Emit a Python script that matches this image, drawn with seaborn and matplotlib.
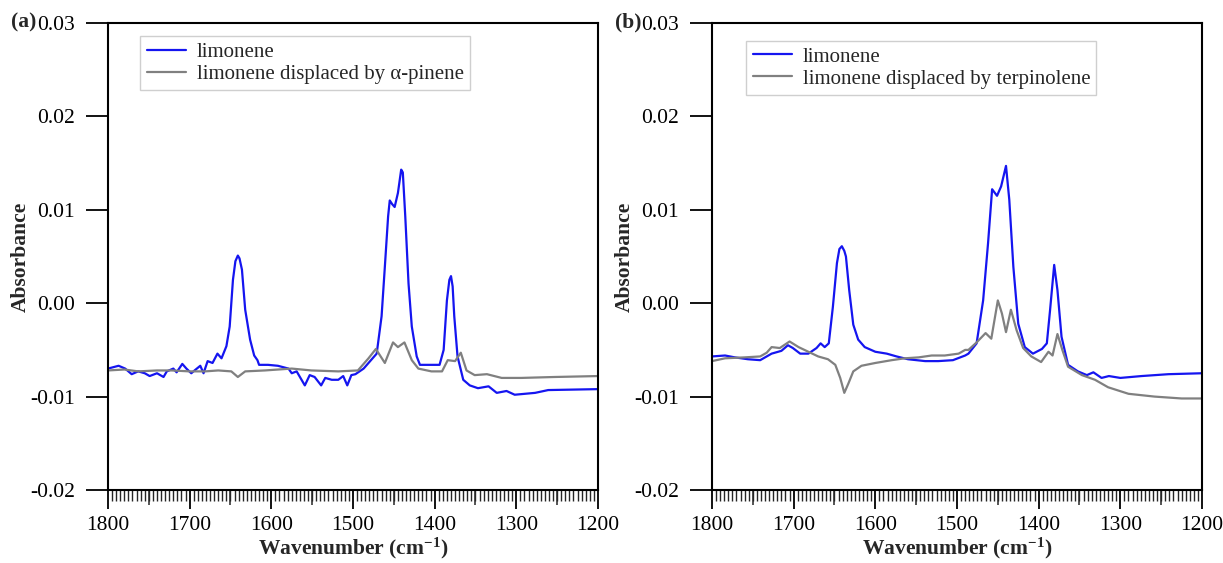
import numpy as np
import pandas as pd
import matplotlib
matplotlib.use("Agg")
import matplotlib.pyplot as plt
import seaborn as sns
from matplotlib.ticker import MultipleLocator, FuncFormatter

# ---------------- data ----------------
# Panel (a): limonene
a_blue_wn = [1800, 1787, 1779, 1771, 1763, 1755, 1749, 1740, 1732, 1728, 1720, 1716, 1709, 1704,
             1698, 1694, 1687, 1683, 1678, 1672, 1666, 1661, 1655, 1651, 1647, 1644, 1641, 1639,
             1636, 1632, 1626, 1621, 1617, 1615, 1604, 1592, 1579, 1575, 1569, 1559, 1553, 1547,
             1539, 1534, 1526, 1518, 1512, 1507, 1502, 1497, 1487, 1481, 1471, 1465, 1461, 1457,
             1455, 1452, 1449, 1445, 1441, 1439, 1436, 1432, 1428, 1422, 1418, 1394, 1389, 1385,
             1382, 1380, 1378, 1376, 1372, 1365, 1357, 1347, 1334, 1324, 1312, 1302, 1277, 1261, 1200]
a_blue_y = [-0.0070, -0.0067, -0.0070, -0.0076, -0.0073, -0.0075, -0.0078, -0.0075, -0.0079, -0.0073,
            -0.0070, -0.0074, -0.0065, -0.0070, -0.0075, -0.0072, -0.0067, -0.0075, -0.0062, -0.0064,
            -0.0054, -0.0059, -0.0046, -0.0025, 0.0025, 0.0045, 0.0051, 0.0048, 0.0036, -0.0007,
            -0.0039, -0.0056, -0.0061, -0.0066, -0.0066, -0.0067, -0.0070, -0.0075, -0.0073, -0.0088,
            -0.0077, -0.0079, -0.0088, -0.0080, -0.0082, -0.0082, -0.0078, -0.0088, -0.0077, -0.0076,
            -0.0070, -0.0064, -0.0054, -0.0014, 0.0039, 0.0093, 0.0110, 0.0106, 0.0103, 0.0118,
            0.0143, 0.0140, 0.0093, 0.0021, -0.0025, -0.0057, -0.0066, -0.0066, -0.0050, 0.0003,
            0.0025, 0.0029, 0.0018, -0.0014, -0.0057, -0.0082, -0.0088, -0.0091, -0.0089, -0.0096,
            -0.0094, -0.0098, -0.0096, -0.0093, -0.0092]
# Panel (a): limonene displaced by alpha-pinene
a_gray_wn = [1800, 1780, 1763, 1740, 1722, 1700, 1681, 1665, 1649, 1641, 1632, 1608, 1575, 1551,
             1518, 1494, 1481, 1472, 1461, 1451, 1445, 1437, 1428, 1420, 1404, 1391, 1384, 1375,
             1368, 1361, 1351, 1336, 1318, 1294, 1253, 1200]
a_gray_y = [-0.0072, -0.0071, -0.0073, -0.0072, -0.0072, -0.0073, -0.0073, -0.0072, -0.0073, -0.0079,
            -0.0073, -0.0072, -0.0070, -0.0072, -0.0073, -0.0072, -0.0059, -0.0049, -0.0064, -0.0042,
            -0.0047, -0.0042, -0.0061, -0.0070, -0.0073, -0.0073, -0.0061, -0.0062, -0.0053, -0.0072,
            -0.0077, -0.0076, -0.0080, -0.0080, -0.0079, -0.0078]

# Panel (b): limonene
b_blue_wn = [1800, 1784, 1772, 1756, 1741, 1733, 1727, 1715, 1707, 1701, 1692, 1682, 1672, 1667,
             1662, 1657, 1652, 1647, 1644, 1641, 1638, 1636, 1632, 1627, 1621, 1613, 1600, 1586,
             1574, 1560, 1539, 1523, 1505, 1490, 1486, 1476, 1468, 1462, 1457, 1451, 1446, 1440,
             1436, 1431, 1425, 1417, 1407, 1396, 1390, 1386, 1381, 1377, 1372, 1364, 1352, 1341,
             1333, 1323, 1314, 1300, 1274, 1241, 1200]
b_blue_y = [-0.0057, -0.0056, -0.0058, -0.0060, -0.0061, -0.0057, -0.0054, -0.0051, -0.0045, -0.0048,
            -0.0054, -0.0054, -0.0048, -0.0043, -0.0047, -0.0043, -0.0004, 0.0043, 0.0058, 0.0061,
            0.0056, 0.0050, 0.0014, -0.0023, -0.0039, -0.0047, -0.0052, -0.0054, -0.0057, -0.0060,
            -0.0062, -0.0062, -0.0061, -0.0056, -0.0054, -0.0043, 0.0003, 0.0064, 0.0122, 0.0115,
            0.0125, 0.0147, 0.0111, 0.0039, -0.0022, -0.0047, -0.0054, -0.0049, -0.0043, -0.0007,
            0.0041, 0.0014, -0.0036, -0.0066, -0.0073, -0.0077, -0.0074, -0.0080, -0.0078, -0.0080,
            -0.0078, -0.0076, -0.0075]
# Panel (b): limonene displaced by terpinolene
b_gray_wn = [1800, 1784, 1760, 1741, 1733, 1727, 1717, 1705, 1694, 1682, 1670, 1658, 1649, 1643,
             1638, 1633, 1627, 1617, 1600, 1580, 1564, 1547, 1531, 1515, 1498, 1490, 1486, 1476,
             1465, 1458, 1450, 1445, 1440, 1434, 1427, 1419, 1409, 1397, 1388, 1383, 1377, 1371,
             1364, 1347, 1331, 1315, 1290, 1258, 1225, 1200]
b_gray_y = [-0.0062, -0.0059, -0.0058, -0.0057, -0.0053, -0.0047, -0.0048, -0.0041, -0.0047, -0.0052,
            -0.0057, -0.0060, -0.0066, -0.0080, -0.0096, -0.0086, -0.0073, -0.0067, -0.0064, -0.0061,
            -0.0059, -0.0058, -0.0056, -0.0056, -0.0054, -0.0050, -0.0050, -0.0042, -0.0032, -0.0038,
            0.0003, -0.0011, -0.0031, -0.0007, -0.0029, -0.0048, -0.0057, -0.0063, -0.0052, -0.0056,
            -0.0033, -0.0050, -0.0068, -0.0077, -0.0082, -0.0090, -0.0097, -0.0100, -0.0102, -0.0102]

blue_label = "limonene"
a_gray_label = "limonene displaced by \u03b1-pinene"
b_gray_label = "limonene displaced by terpinolene"
panel_labels = ["(a)", "(b)"]
x_major = [1800, 1700, 1600, 1500, 1400, 1300, 1200]
x_mid = [1750, 1650, 1550, 1450, 1350, 1250]
y_major = [-0.02, -0.01, 0.00, 0.01, 0.02, 0.03]

# ---------------- style ----------------
sns.set_style("ticks")
plt.rcParams["font.family"] = ["Liberation Serif", "DejaVu Serif"]
plt.rcParams["axes.unicode_minus"] = False
plt.rcParams["mathtext.fontset"] = "custom"
plt.rcParams["mathtext.rm"] = "Liberation Serif"
plt.rcParams["mathtext.bf"] = "Liberation Serif:bold"
plt.rcParams["mathtext.default"] = "regular"

W, H = 1223, 563
fig = plt.figure(figsize=(W / 100, H / 100), dpi=100)
ax_a = fig.add_axes([108 / W, 1 - 490 / H, 490 / W, 467 / H])
ax_b = fig.add_axes([712 / W, 1 - 490 / H, 490 / W, 467 / H])

BLUE = "#1515F0"
GRAY = "#808080"
FS = 15.5
LFS = 15


def draw(ax, bwn, by, gwn, gy, glabel, leg_anchor):
    df = pd.concat([
        pd.DataFrame({"wn": bwn, "abs": by, "series": blue_label}),
        pd.DataFrame({"wn": gwn, "abs": gy, "series": glabel}),
    ], ignore_index=True)
    sns.lineplot(data=df, x="wn", y="abs", hue="series",
                 palette={blue_label: BLUE, glabel: GRAY},
                 estimator=None, sort=False, linewidth=1.6, ax=ax)
    ax.set_xlim(1800, 1200)
    ax.set_ylim(-0.02, 0.03)
    ax.set_xticks(x_major)
    ax.set_yticks(y_major)
    ax.xaxis.set_minor_locator(MultipleLocator(5))
    ax.yaxis.set_major_formatter(FuncFormatter(lambda v, p: f"{round(v, 4):.2f}".replace("-0.00", "0.00")))
    ax.tick_params(axis="both", which="major", direction="out", length=14, width=1.3,
                   labelsize=FS, colors="black", pad=5)
    ax.tick_params(axis="y", which="major", length=16, pad=8)
    ax.tick_params(axis="x", which="minor", direction="out", length=8, width=1.0)
    sec = ax.secondary_xaxis("bottom")
    sec.set_xticks(x_mid)
    sec.tick_params(direction="out", length=11, width=1.1, labelbottom=False)
    sec.spines["bottom"].set_visible(False)
    for s in ax.spines.values():
        s.set_visible(True)
        s.set_linewidth(1.5)
        s.set_color("black")
    ax.set_xlabel("Wavenumber (cm$^{-1}$)", fontsize=FS, fontweight="bold")
    ax.xaxis.set_label_coords(0.5, -0.098)
    ax.set_ylabel("Absorbance", fontsize=FS, fontweight="bold")
    ax.yaxis.set_label_coords(-0.157, 0.5)
    handles, labels = ax.get_legend_handles_labels()
    leg = ax.legend(handles, labels, loc="upper left", bbox_to_anchor=leg_anchor,
                    borderaxespad=0, frameon=True, fancybox=False, framealpha=1,
                    edgecolor="#cfcfcf", fontsize=LFS, handlelength=1.9,
                    handletextpad=0.5, labelspacing=0.12, borderpad=0.3)
    leg.get_frame().set_linewidth(1.0)


draw(ax_a, a_blue_wn, a_blue_y, a_gray_wn, a_gray_y, a_gray_label, (0.066, 0.972))
draw(ax_b, b_blue_wn, b_blue_y, b_gray_wn, b_gray_y, b_gray_label, (0.070, 0.962))

fig.text(11 / W, 1 - 22 / H, panel_labels[0], fontsize=FS, fontweight="bold", va="center", ha="left")
fig.text(615 / W, 1 - 22 / H, panel_labels[1], fontsize=FS, fontweight="bold", va="center", ha="left")

fig.savefig("out.png", dpi=100)
